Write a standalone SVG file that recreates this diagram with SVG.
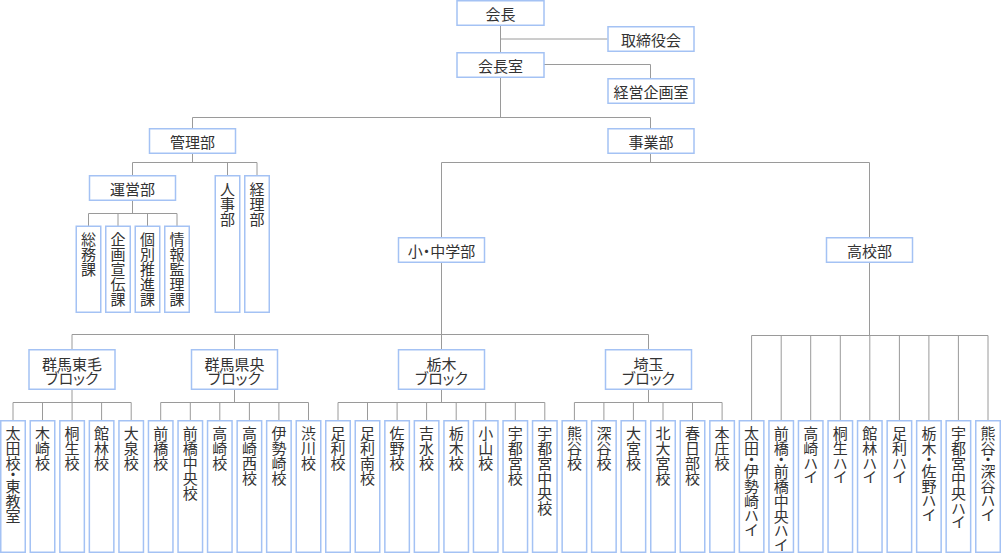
<svg xmlns="http://www.w3.org/2000/svg" width="1001" height="554" viewBox="0 0 1001 554">
<style>
.b{fill:#fff;stroke:#a4c2f4;stroke-width:1.5}
.c{fill:none;stroke:#9a9a9a;stroke-width:1}
text{font-family:"Noto Sans CJK JP","Noto Sans",sans-serif;font-size:15px;fill:#333;text-anchor:middle;dominant-baseline:central}
.h{font-feature-settings:"palt"}
.v{writing-mode:vertical-rl;text-orientation:upright;font-feature-settings:"vpal";text-anchor:start;dominant-baseline:central}
</style>
<rect width="1001" height="554" fill="#fff"/>
<g id="connectors" class="c">
<path d="M500.5 25.5V52.5M500.5 39H607.5M543.5 64.5H650.5V78.5M500.5 77.5V117.5M192.5 117.5H650.5M192.5 117.5V128.5M650.5 117.5V128.5"/>
<path d="M192.5 153.5V162.5M132.5 162.5H257M132.5 162.5V175.5M227.5 162.5V175.5M257 162.5V175.5"/>
<path d="M132.5 200.5V213.5M88.5 213.5H177M88.5 213.5V226M118 213.5V226M147.5 213.5V226M177 213.5V226"/>
<path d="M650.5 153.5V162.5M441.5 162.5H869.5M441.5 162.5V237.5M869.5 162.5V237.5"/>
<path d="M441.5 262.5V349.5M72 334.5H648.5M72 334.5V349.5M234.5 334.5V349.5M648.5 334.5V349.5"/>
<path d="M72 389.5V402.5M13 402.5H131.2M13 402.5V420M42.5 402.5V420M72.1 402.5V420M101.6 402.5V420M131.2 402.5V420"/>
<path d="M234.5 389.5V402.5M160.7 402.5H308.5M160.7 402.5V420M190.3 402.5V420M219.8 402.5V420M249.4 402.5V420M278.9 402.5V420M308.5 402.5V420"/>
<path d="M441.5 389.5V402.5M338 402.5H544.8M338 402.5V420M367.5 402.5V420M397.1 402.5V420M426.6 402.5V420M456.2 402.5V420M485.7 402.5V420M515.3 402.5V420M544.8 402.5V420"/>
<path d="M648.5 389.5V402.5M574.4 402.5H722.1M574.4 402.5V420M603.9 402.5V420M633.4 402.5V420M663 402.5V420M692.5 402.5V420M722.1 402.5V420"/>
<path d="M869.5 262.5V335.5M751.6 335.5H988M751.6 335.5V420M781.2 335.5V420M810.7 335.5V420M840.3 335.5V420M869.8 335.5V420M899.4 335.5V420M928.9 335.5V420M958.4 335.5V420M988 335.5V420"/>
</g>
<g id="n-kaicho"><rect class="b" x="457" y="0.75" width="87" height="24.5"/><text class="h" x="500.5" y="13.5">会長</text></g>
<g id="n-torishimari"><rect class="b" x="608" y="26.75" width="86" height="24.5"/><text class="h" x="651" y="39.5">取締役会</text></g>
<g id="n-kaichoshitsu"><rect class="b" x="457" y="52.75" width="87" height="24.5"/><text class="h" x="500.5" y="65.5">会長室</text></g>
<g id="n-keiei"><rect class="b" x="608" y="78.75" width="86" height="24.5"/><text class="h" x="651" y="91.5">経営企画室</text></g>
<g id="n-kanri"><rect class="b" x="149.5" y="128.75" width="86" height="24.5"/><text class="h" x="192.5" y="141.5">管理部</text></g>
<g id="n-jigyo"><rect class="b" x="608" y="128.75" width="86" height="24.5"/><text class="h" x="651" y="141.5">事業部</text></g>
<g id="n-unei"><rect class="b" x="89.5" y="175.75" width="86" height="24.5"/><text class="h" x="132.5" y="188.5">運営部</text></g>
<g id="n-jinji"><rect class="b" x="215.25" y="175.75" width="24.5" height="136.5"/><text class="v" x="227.5" y="181.5">人事部</text></g>
<g id="n-keiri"><rect class="b" x="244.75" y="175.75" width="24.5" height="136.5"/><text class="v" x="257" y="181.5">経理部</text></g>
<g id="n-somu"><rect class="b" x="76.25" y="226.25" width="24.5" height="86"/><text class="v" x="88.5" y="232">総務課</text></g>
<g id="n-kikaku"><rect class="b" x="105.75" y="226.25" width="24.5" height="86"/><text class="v" x="118" y="232">企画宣伝課</text></g>
<g id="n-kobetsu"><rect class="b" x="135.25" y="226.25" width="24.5" height="86"/><text class="v" x="147.5" y="232">個別推進課</text></g>
<g id="n-joho"><rect class="b" x="164.75" y="226.25" width="24.5" height="86"/><text class="v" x="177" y="232">情報監理課</text></g>
<g id="n-shochu"><rect class="b" x="398.5" y="237.75" width="86" height="24.5"/><text class="h" x="441.5" y="250.5">小・中学部</text></g>
<g id="n-koko"><rect class="b" x="826.5" y="237.75" width="86" height="24.5"/><text class="h" x="869.5" y="250.5">高校部</text></g>
<g id="n-tomo"><rect class="b" x="29" y="349.75" width="86" height="39.5"/><text class="h"><tspan x="72" y="362.5">群馬東毛</tspan><tspan x="72" y="377">ブロック</tspan></text></g>
<g id="n-kenou"><rect class="b" x="191.5" y="349.75" width="86" height="39.5"/><text class="h"><tspan x="234.5" y="362.5">群馬県央</tspan><tspan x="234.5" y="377">ブロック</tspan></text></g>
<g id="n-tochigi"><rect class="b" x="398.5" y="349.75" width="86" height="39.5"/><text class="h"><tspan x="441.5" y="362.5">栃木</tspan><tspan x="441.5" y="377">ブロック</tspan></text></g>
<g id="n-saitama"><rect class="b" x="605.5" y="349.75" width="86" height="39.5"/><text class="h"><tspan x="648.5" y="362.5">埼玉</tspan><tspan x="648.5" y="377">ブロック</tspan></text></g>
<g id="l0"><rect class="b" x="0.75" y="420.75" width="24.5" height="131.5"/><text class="v" x="13" y="426">太田校・東教室</text></g>
<g id="l1"><rect class="b" x="30.25" y="420.75" width="24.5" height="131.5"/><text class="v" x="42.5" y="426">木崎校</text></g>
<g id="l2"><rect class="b" x="59.85" y="420.75" width="24.5" height="131.5"/><text class="v" x="72.1" y="426">桐生校</text></g>
<g id="l3"><rect class="b" x="89.35" y="420.75" width="24.5" height="131.5"/><text class="v" x="101.6" y="426">館林校</text></g>
<g id="l4"><rect class="b" x="118.95" y="420.75" width="24.5" height="131.5"/><text class="v" x="131.2" y="426">大泉校</text></g>
<g id="l5"><rect class="b" x="148.45" y="420.75" width="24.5" height="131.5"/><text class="v" x="160.7" y="426">前橋校</text></g>
<g id="l6"><rect class="b" x="178.05" y="420.75" width="24.5" height="131.5"/><text class="v" x="190.3" y="426">前橋中央校</text></g>
<g id="l7"><rect class="b" x="207.55" y="420.75" width="24.5" height="131.5"/><text class="v" x="219.8" y="426">高崎校</text></g>
<g id="l8"><rect class="b" x="237.15" y="420.75" width="24.5" height="131.5"/><text class="v" x="249.4" y="426">高崎西校</text></g>
<g id="l9"><rect class="b" x="266.65" y="420.75" width="24.5" height="131.5"/><text class="v" x="278.9" y="426">伊勢崎校</text></g>
<g id="l10"><rect class="b" x="296.25" y="420.75" width="24.5" height="131.5"/><text class="v" x="308.5" y="426">渋川校</text></g>
<g id="l11"><rect class="b" x="325.75" y="420.75" width="24.5" height="131.5"/><text class="v" x="338" y="426">足利校</text></g>
<g id="l12"><rect class="b" x="355.25" y="420.75" width="24.5" height="131.5"/><text class="v" x="367.5" y="426">足利南校</text></g>
<g id="l13"><rect class="b" x="384.85" y="420.75" width="24.5" height="131.5"/><text class="v" x="397.1" y="426">佐野校</text></g>
<g id="l14"><rect class="b" x="414.35" y="420.75" width="24.5" height="131.5"/><text class="v" x="426.6" y="426">吉水校</text></g>
<g id="l15"><rect class="b" x="443.95" y="420.75" width="24.5" height="131.5"/><text class="v" x="456.2" y="426">栃木校</text></g>
<g id="l16"><rect class="b" x="473.45" y="420.75" width="24.5" height="131.5"/><text class="v" x="485.7" y="426">小山校</text></g>
<g id="l17"><rect class="b" x="503.05" y="420.75" width="24.5" height="131.5"/><text class="v" x="515.3" y="426">宇都宮校</text></g>
<g id="l18"><rect class="b" x="532.55" y="420.75" width="24.5" height="131.5"/><text class="v" x="544.8" y="426">宇都宮中央校</text></g>
<g id="l19"><rect class="b" x="562.15" y="420.75" width="24.5" height="131.5"/><text class="v" x="574.4" y="426">熊谷校</text></g>
<g id="l20"><rect class="b" x="591.65" y="420.75" width="24.5" height="131.5"/><text class="v" x="603.9" y="426">深谷校</text></g>
<g id="l21"><rect class="b" x="621.15" y="420.75" width="24.5" height="131.5"/><text class="v" x="633.4" y="426">大宮校</text></g>
<g id="l22"><rect class="b" x="650.75" y="420.75" width="24.5" height="131.5"/><text class="v" x="663" y="426">北大宮校</text></g>
<g id="l23"><rect class="b" x="680.25" y="420.75" width="24.5" height="131.5"/><text class="v" x="692.5" y="426">春日部校</text></g>
<g id="l24"><rect class="b" x="709.85" y="420.75" width="24.5" height="131.5"/><text class="v" x="722.1" y="426">本庄校</text></g>
<g id="l25"><rect class="b" x="739.35" y="420.75" width="24.5" height="131.5"/><text class="v" x="751.6" y="426">太田・伊勢崎ハイ</text></g>
<g id="l26"><rect class="b" x="768.95" y="420.75" width="24.5" height="131.5"/><text class="v" x="781.2" y="426">前橋・前橋中央ハイ</text></g>
<g id="l27"><rect class="b" x="798.45" y="420.75" width="24.5" height="131.5"/><text class="v" x="810.7" y="426">高崎ハイ</text></g>
<g id="l28"><rect class="b" x="828.05" y="420.75" width="24.5" height="131.5"/><text class="v" x="840.3" y="426">桐生ハイ</text></g>
<g id="l29"><rect class="b" x="857.55" y="420.75" width="24.5" height="131.5"/><text class="v" x="869.8" y="426">館林ハイ</text></g>
<g id="l30"><rect class="b" x="887.15" y="420.75" width="24.5" height="131.5"/><text class="v" x="899.4" y="426">足利ハイ</text></g>
<g id="l31"><rect class="b" x="916.65" y="420.75" width="24.5" height="131.5"/><text class="v" x="928.9" y="426">栃木・佐野ハイ</text></g>
<g id="l32"><rect class="b" x="946.15" y="420.75" width="24.5" height="131.5"/><text class="v" x="958.4" y="426">宇都宮中央ハイ</text></g>
<g id="l33"><rect class="b" x="975.75" y="420.75" width="24.5" height="131.5"/><text class="v" x="988" y="426">熊谷・深谷ハイ</text></g>
</svg>
